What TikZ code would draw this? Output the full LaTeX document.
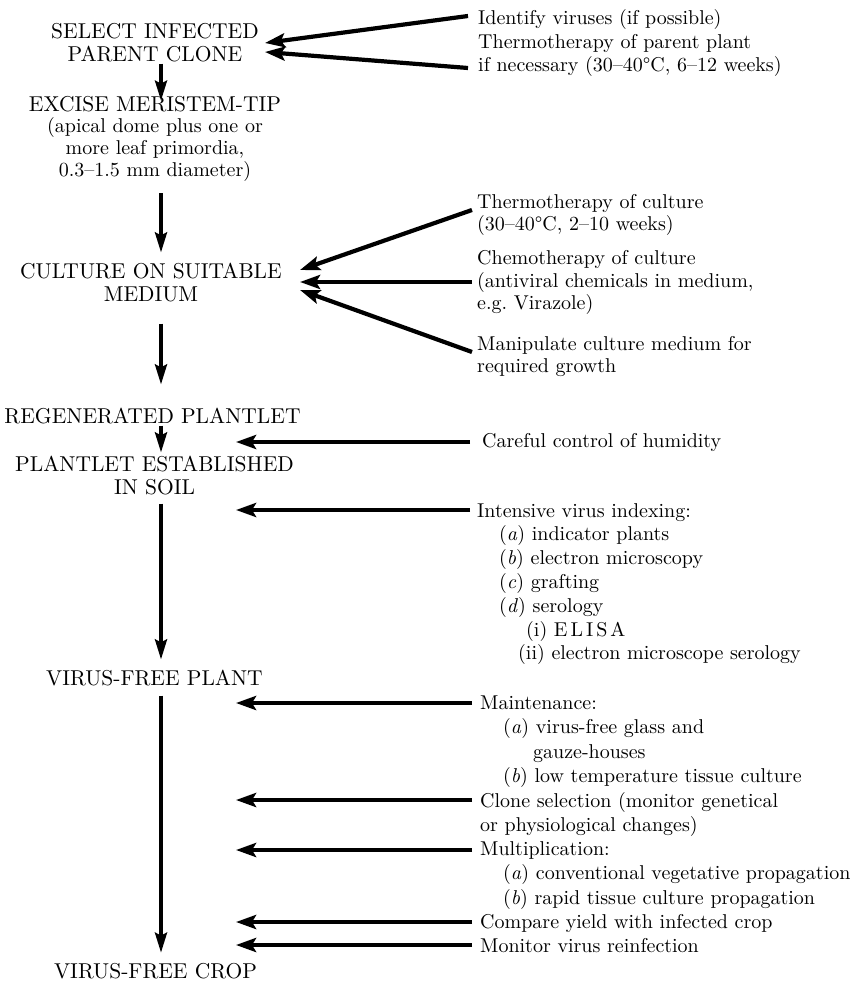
\documentclass[tikz,border=0pt]{standalone}
\usepackage{fontspec}
\setmainfont{lmroman10-regular.otf}[ItalicFont=lmroman10-italic.otf]
\usetikzlibrary{arrows.meta, positioning, calc}

\begin{document}
\begin{tikzpicture}[x=1pt, y=-1pt,
  stage/.style={align=center, text width=300pt, anchor=base, inner sep=0pt, font=\fontsize{21.5}{23}\selectfont},
  detail/.style={align=left, text width=390pt, anchor=base west, inner sep=0pt, font=\fontsize{20}{24}\selectfont},
  flow/.style={line width=3.6pt, -{Stealth[length=20pt, width=12pt, inset=3pt]}},
  feed/.style={line width=4.2pt, -{Stealth[length=20pt, width=14pt, inset=4pt]}}]

\useasboundingbox (0,0) rectangle (863,981);

% Stages down the left
\node[stage] (select) at (155,39) {SELECT INFECTED\\PARENT CLONE};
\node[stage] (meristem) at (155,112) {EXCISE MERISTEM-TIP};
\node[stage, font=\fontsize{20}{22}\selectfont] (meristemnote) at (155,133) {(apical dome plus one or\\more leaf primordia,\\0.3–1.5 mm diameter)};
\node[stage] (culture) at (151,279) {CULTURE ON SUITABLE\\MEDIUM};
\node[stage] (regen) at (152.5,423) {REGENERATED PLANTLET};
\node[stage] (soil) at (154.5,471) {PLANTLET ESTABLISHED\\IN SOIL};
\node[stage] (plant) at (154.5,685) {VIRUS-FREE PLANT};
\node[stage] (crop) at (155.5,978) {VIRUS-FREE CROP};

% Treatments and checks on the right
\node[detail, font=\fontsize{20}{23.5}\selectfont] (ident) at (478,25) {Identify viruses (if possible)};
\node[detail, font=\fontsize{20}{23.5}\selectfont] (heat) at (478,48.5) {Thermotherapy of parent plant\\if necessary (30–40°C, 6–12 weeks)};
\node[detail, font=\fontsize{20}{21.5}\selectfont] (cultheat) at (477,209) {Thermotherapy of culture\\(30–40°C, 2–10 weeks)};
\node[detail, font=\fontsize{20}{22.5}\selectfont] (chemo) at (477,265) {Chemotherapy of culture\\(antiviral chemicals in medium,\\e.g.\ Virazole)};
\node[detail, font=\fontsize{20}{22.5}\selectfont] (manip) at (477,350) {Manipulate culture medium for\\required growth};
\node[detail] (humid) at (482,447) {Careful control of humidity};
\node[detail, font=\fontsize{20}{23.8}\selectfont] (index) at (477,517) {Intensive virus indexing:\\
  \hspace*{22pt}(\textit{a}) indicator plants\\
  \hspace*{22pt}(\textit{b}) electron microscopy\\
  \hspace*{22pt}(\textit{c}) grafting\\
  \hspace*{22pt}(\textit{d}) serology\\
  \hspace*{49pt}(i) {\addfontfeatures{LetterSpace=15}ELISA}\\
  \hspace*{41pt}(ii) electron microscope serology};
\node[detail, font=\fontsize{20}{24.5}\selectfont] (maint) at (480,709) {Maintenance:\\
  \hspace*{23pt}(\textit{a}) virus-free glass and\\
  \hspace*{53pt}gauze-houses\\
  \hspace*{23pt}(\textit{b}) low temperature tissue culture};
\node[detail, font=\fontsize{20}{24.5}\selectfont] (clone) at (480,807) {Clone selection (monitor genetical\\or physiological changes)};
\node[detail, font=\fontsize{20}{24.5}\selectfont] (multi) at (480,855) {Multiplication:\\
  \hspace*{23pt}(\textit{a}) conventional vegetative propagation\\
  \hspace*{23pt}(\textit{b}) rapid tissue culture propagation};
\node[detail] (yield) at (480,928) {Compare yield with infected crop};
\node[detail] (reinf) at (480,952) {Monitor virus reinfection};

% where the arrows meet
\coordinate (spine) at (161,0);
\coordinate (rail) at (236,0);
\coordinate (clonein) at (265,47.5);
\coordinate (mediumin) at (300,282);

% Main sequence
\draw[flow, shorten <=1pt, shorten >=-4pt] (select.south -| spine) -- (meristem.north -| spine);
\draw[flow, shorten <=11pt, shorten >=11pt] (meristemnote.south -| spine) -- (culture.north -| spine);
\draw[flow, shorten <=21pt, shorten >=23pt] (culture.south -| spine) -- (regen.north -| spine);
\draw[flow, shorten <=2pt, shorten >=3pt] (regen.south -| spine) -- (soil.north -| spine);
\draw[flow, shorten <=9pt, shorten >=10pt] (soil.south -| spine) -- (plant.north -| spine);
\draw[flow, shorten <=10pt, shorten >=10pt] (plant.south -| spine) -- (crop.north -| spine);

% Inputs to the parent clone
\draw[feed] ([xshift=-10pt, yshift=9pt]ident.base west) -- ([yshift=4.5pt]clonein);
\draw[feed] ([xshift=-10pt, yshift=-19.5pt]heat.base west) -- ([yshift=-4.5pt]clonein);

% Inputs to the culture
\draw[feed] ([xshift=-5pt, yshift=-1pt]cultheat.base west) -- ([yshift=12pt]mediumin);
\draw[feed] ([xshift=-5pt, yshift=-17pt]chemo.base west) -- (mediumin);
\draw[feed] ([xshift=-5pt, yshift=-2pt]manip.base west) -- ([yshift=-8pt]mediumin);

% Later controls
\draw[feed] ([xshift=-12pt, yshift=5pt]humid.base west) -- ([yshift=5pt]humid.base west -| rail);
\draw[feed] ([xshift=-7pt, yshift=7pt]index.base west) -- ([yshift=7pt]index.base west -| rail);
\draw[feed] ([xshift=-8pt, yshift=6pt]maint.base west) -- ([yshift=6pt]maint.base west -| rail);
\draw[feed] ([xshift=-8pt, yshift=7pt]clone.base west) -- ([yshift=7pt]clone.base west -| rail);
\draw[feed] ([xshift=-8pt, yshift=5pt]multi.base west) -- ([yshift=5pt]multi.base west -| rail);
\draw[feed] ([xshift=-8pt, yshift=6pt]yield.base west) -- ([yshift=6pt]yield.base west -| rail);
\draw[feed] ([xshift=-8pt, yshift=7pt]reinf.base west) -- ([yshift=7pt]reinf.base west -| rail);

\end{tikzpicture}
\end{document}
